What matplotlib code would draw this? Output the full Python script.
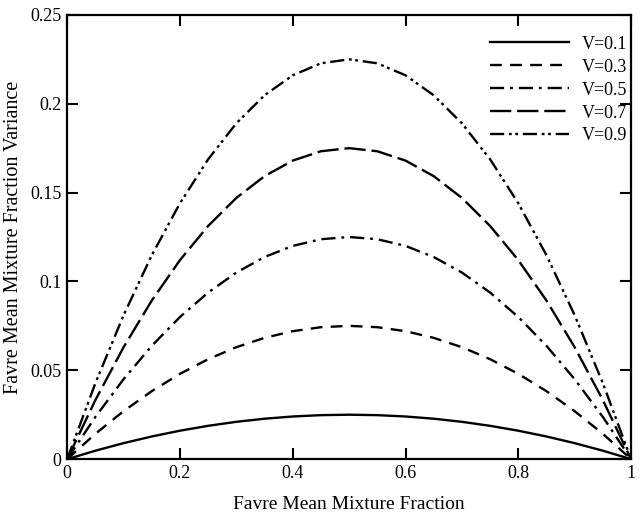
import matplotlib
matplotlib.use("Agg")
import matplotlib.pyplot as plt

plt.rcParams["font.family"] = ["Liberation Serif", "DejaVu Serif"]

# Favre mean mixture fraction
z = [0.0, 0.05, 0.1, 0.15, 0.2, 0.25, 0.3, 0.35, 0.4, 0.45, 0.5,
     0.55, 0.6, 0.65, 0.7, 0.75, 0.8, 0.85, 0.9, 0.95, 1.0]

# variance curves
v01 = [0.0, 0.00475, 0.009, 0.01275, 0.016, 0.01875, 0.021, 0.02275, 0.024, 0.02475, 0.025,
       0.02475, 0.024, 0.02275, 0.021, 0.01875, 0.016, 0.01275, 0.009, 0.00475, 0.0]
v03 = [0.0, 0.01425, 0.027, 0.03825, 0.048, 0.05625, 0.063, 0.06825, 0.072, 0.07425, 0.075,
       0.07425, 0.072, 0.06825, 0.063, 0.05625, 0.048, 0.03825, 0.027, 0.01425, 0.0]
v05 = [0.0, 0.02375, 0.045, 0.06375, 0.08, 0.09375, 0.105, 0.11375, 0.12, 0.12375, 0.125,
       0.12375, 0.12, 0.11375, 0.105, 0.09375, 0.08, 0.06375, 0.045, 0.02375, 0.0]
v07 = [0.0, 0.03325, 0.063, 0.08925, 0.112, 0.13125, 0.147, 0.15925, 0.168, 0.17325, 0.175,
       0.17325, 0.168, 0.15925, 0.147, 0.13125, 0.112, 0.08925, 0.063, 0.03325, 0.0]
v09 = [0.0, 0.04275, 0.081, 0.11475, 0.144, 0.16875, 0.189, 0.20475, 0.216, 0.22275, 0.225,
       0.22275, 0.216, 0.20475, 0.189, 0.16875, 0.144, 0.11475, 0.081, 0.04275, 0.0]

labels = ["V=0.1", "V=0.3", "V=0.5", "V=0.7", "V=0.9"]
series = [v01, v03, v05, v07, v09]
dashes = [
    (),
    (5, 3.5),
    (6, 2.5, 1.2, 2.5),
    (9, 2.5),
    (6, 2, 1.2, 1.5, 1.2, 2),
]

fig = plt.figure(figsize=(6.4, 5.13), dpi=100)
ax = fig.add_axes([0.105, 0.105, 0.881, 0.866])

for y, lab, d in zip(series, labels, dashes):
    line, = ax.plot(z, y, color="black", lw=1.7, label=lab)
    if d:
        line.set_dashes(d)

ax.set_xlim(0, 1)
ax.set_ylim(0, 0.25)
ax.set_xticks([0, 0.2, 0.4, 0.6, 0.8, 1])
ax.set_xticklabels(["0", "0.2", "0.4", "0.6", "0.8", "1"])
ax.set_yticks([0, 0.05, 0.1, 0.15, 0.2, 0.25])
ax.set_yticklabels(["0", "0.05", "0.1", "0.15", "0.2", "0.25"])
ax.tick_params(direction="in", top=True, right=True, length=8, width=1.5,
               labelsize=13, pad=4)
for s in ax.spines.values():
    s.set_linewidth(1.6)

ax.set_xlabel("Favre Mean Mixture Fraction", fontsize=14, labelpad=10)
ax.set_ylabel("Favre Mean Mixture Fraction Variance", fontsize=14.5, labelpad=5)

ax.legend(loc="upper right", bbox_to_anchor=(1.03, 1.0), frameon=False,
          fontsize=13, handlelength=4.4, handletextpad=0.7,
          labelspacing=0.33, borderaxespad=0.75)

fig.savefig("out.png", dpi=100)
